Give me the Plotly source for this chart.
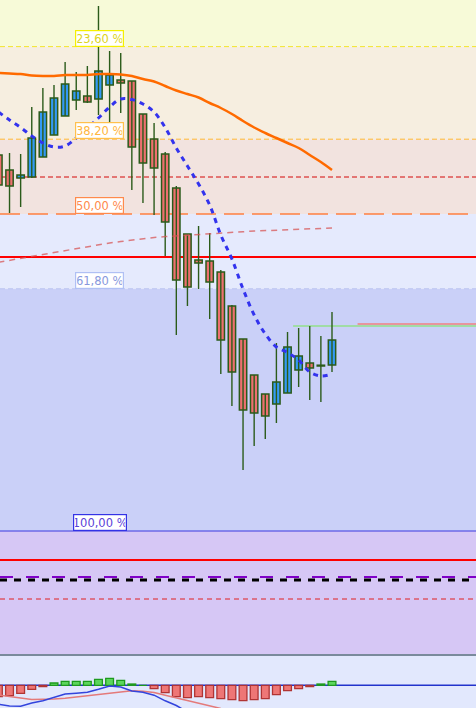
import plotly.graph_objects as go

# ---------------- data (price units) ----------------
candle_index = list(range(31))
opens  = [137.6, 136.1, 135.3, 135.4, 137.4, 139.6, 141.5, 143.1, 143.5, 143.2, 144.6, 145.1, 145.0, 141.7, 139.2, 137.7,
          134.3, 129.7, 127.1, 127.0, 125.9, 122.5, 119.2, 115.6, 113.7, 112.7, 113.8, 116.1, 116.8, 116.5, 116.6]
highs  = [138.1, 137.8, 137.7, 142.4, 144.3, 144.6, 146.9, 145.9, 146.5, 152.5, 148.0, 147.8, 145.0, 141.7, 140.8, 137.9,
          134.5, 129.7, 130.5, 129.8, 126.1, 122.6, 119.2, 115.6, 113.7, 118.8, 119.9, 120.3, 120.5, 119.5, 121.9]
lows   = [133.6, 131.8, 132.4, 135.3, 137.4, 139.6, 141.5, 142.1, 142.8, 141.6, 140.1, 141.8, 134.1, 132.8, 131.6, 127.5,
          119.6, 122.5, 124.2, 121.2, 115.7, 112.5, 106.1, 108.5, 109.2, 110.8, 113.8, 114.4, 113.1, 112.9, 115.9]
closes = [134.6, 134.5, 135.6, 139.3, 141.9, 143.3, 144.7, 144.0, 142.9, 146.0, 145.6, 144.8, 138.4, 136.8, 136.3, 130.9,
          125.1, 124.4, 126.8, 124.9, 119.1, 115.9, 112.1, 111.8, 111.5, 114.9, 118.4, 117.5, 116.3, 116.5, 119.1]

ma_fast = [141.9, 141.1, 140.35, 139.5, 138.8, 138.4, 138.5, 139.3, 140.3, 141.3, 142.4, 143.2, 143.15, 142.7, 141.9,
           140.35, 138.3, 136.5, 134.7, 132.6, 129.6, 127.2, 124.2, 121.6, 119.7, 118.4, 117.85, 117.1, 115.9, 115.5, 115.7]
ma_mid = [145.8, 145.75, 145.7, 145.55, 145.5, 145.5, 145.6, 145.6, 145.6, 145.7, 145.7, 145.65, 145.5, 145.2, 144.95,
          144.5, 144.05, 143.7, 143.35, 142.8, 142.3, 141.7, 141.0, 140.35, 139.8, 139.3, 138.8, 138.3, 137.6, 136.9, 136.1]
ma_slow = [126.87, 127.05, 127.25, 127.45, 127.65, 127.85, 128.05, 128.25, 128.45, 128.67, 128.8, 128.95, 129.1, 129.25,
           129.35, 129.44, 129.52, 129.6, 129.67, 129.74, 129.8, 129.87, 129.93, 129.99, 130.04, 130.09, 130.14, 130.18,
           130.22, 130.26, 130.3]

macd_hist = [-11.3, -10.3, -8.0, -4.0, -1.3, 2.3, 4.0, 4.0, 4.0, 6.0, 7.0, 5.0, 1.3, 0.0, -3.3, -7.3, -11.3, -12.3,
             -11.3, -12.3, -13.3, -14.3, -15.3, -14.3, -13.3, -9.3, -5.3, -3.3, -1.3, 1.3, 4.0]
macd_line = [-19.0, -20.7, -20.9, -17.7, -15.4, -12.0, -8.7, -7.9, -7.0, -4.0, -0.7, -1.7, -5.7, -7.0, -9.9, -15.5,
             -20.2, -26.7]
macd_signal = [-9.7, -11.5, -12.7, -14.3, -14.2, -13.7, -13.0, -11.7, -10.0, -8.7, -7.5, -6.5, -5.5, -5.9, -7.2, -10.0,
               -12.7, -15.4, -17.9, -20.5, -23.2]

swing_high = 163.4
swing_low = 100.0
fib_ratios = [0.236, 0.382, 0.5, 0.618, 1.0]
fib_labels = ["23,60 %", "38,20 %", "50,00 %", "61,80 %", "100,00 %"]

level_red_dashed = 135.4
level_red_solid_1 = 127.4
level_red_solid_2 = 97.1
level_purple_dash = 95.4
level_black_dash = 95.1
level_red_dash_low = 93.2
level_green = 120.5
level_green_start = 26.5
level_pink = 120.7
level_pink_start = 32.3

# ---------------- view ----------------
X_RANGE = [0.144, 42.95]
Y_RANGE = [87.6, 153.1]
Y2_RANGE = [-22.7, 29.3]
H = 708.0
main_dom = [(H - 655) / H, 1.0]
macd_dom = [0.0, (H - 656) / H]

fib_prices = [swing_high - r * (swing_high - swing_low) for r in fib_ratios]

WICK = "#2B5B1A"
fig = go.Figure()

# wicks
wx, wy = [], []
for i, h, l in zip(candle_index, highs, lows):
    wx += [i, i, None]
    wy += [l, h, None]
fig.add_trace(go.Scatter(x=wx, y=wy, mode="lines", line=dict(color=WICK, width=1.4),
                         hoverinfo="skip", xaxis="x", yaxis="y"))

# bodies
up_x, up_b, up_h, dn_x, dn_b, dn_h = [], [], [], [], [], []
for i, o, c in zip(candle_index, opens, closes):
    base = min(o, c)
    hgt = max(abs(c - o), 0.08)
    if c > o:
        up_x.append(i); up_b.append(base); up_h.append(hgt)
    else:
        dn_x.append(i); dn_b.append(base); dn_h.append(hgt)
fig.add_trace(go.Bar(x=up_x, y=up_h, base=up_b, width=0.66, marker=dict(color="#3399F5", line=dict(color=WICK, width=1.5)),
                     xaxis="x", yaxis="y", hoverinfo="skip"))
fig.add_trace(go.Bar(x=dn_x, y=dn_h, base=dn_b, width=0.66, marker=dict(color="#EE7070", line=dict(color=WICK, width=1.5)),
                     xaxis="x", yaxis="y", hoverinfo="skip"))

# moving averages
fig.add_trace(go.Scatter(x=candle_index, y=ma_slow, mode="lines",
                         line=dict(color="rgba(215,85,85,0.75)", width=1.5, dash="6px,5px"),
                         xaxis="x", yaxis="y", hoverinfo="skip"))
fig.add_trace(go.Scatter(x=candle_index, y=ma_mid, mode="lines", line=dict(color="#FF6A00", width=2.5, shape="spline"),
                         xaxis="x", yaxis="y", hoverinfo="skip"))
fig.add_trace(go.Scatter(x=candle_index, y=ma_fast, mode="lines",
                         line=dict(color="#3333EE", width=3, dash="5px,5px", shape="spline"),
                         xaxis="x", yaxis="y", hoverinfo="skip"))

# MACD
hist_colors = ["#5CD65C" if v >= 0 else "#EE7676" for v in macd_hist]
hist_lines = ["#1E9A1E" if v >= 0 else "#B03434" for v in macd_hist]
fig.add_trace(go.Bar(x=candle_index, y=macd_hist, width=0.70,
                     marker=dict(color=hist_colors, line=dict(color=hist_lines, width=1.3)),
                     xaxis="x2", yaxis="y2", hoverinfo="skip"))
fig.add_trace(go.Scatter(x=candle_index[:len(macd_signal)], y=macd_signal, mode="lines",
                         line=dict(color="#E47A7A", width=1.5), xaxis="x2", yaxis="y2", hoverinfo="skip"))
fig.add_trace(go.Scatter(x=candle_index[:len(macd_line)], y=macd_line, mode="lines",
                         line=dict(color="#3344DD", width=1.5), xaxis="x2", yaxis="y2", hoverinfo="skip"))

shapes = []
def band(y0, y1, color):
    shapes.append(dict(type="rect", xref="x domain", yref="y", x0=0, x1=1, y0=y0, y1=y1,
                       fillcolor=color, line=dict(width=0), layer="below"))

band(fib_prices[0], Y_RANGE[1], "#F7FAD8")
band(fib_prices[1], fib_prices[0], "#F6EEE0")
band(fib_prices[2], fib_prices[1], "#F2E3DF")
band(fib_prices[3], fib_prices[2], "#E5EAFD")
band(fib_prices[4], fib_prices[3], "#CAD0F8")
band(Y_RANGE[0], fib_prices[4], "#D6C7F5")

def hline(y, color, width, dash="solid", x0=0.0):
    shapes.append(dict(type="line", xref="x domain", yref="y", x0=x0, x1=1, y0=y, y1=y,
                       line=dict(color=color, width=width, dash=dash), layer="below"))

hline(fib_prices[0], "#F2E62A", 1, "5px,3px")
hline(fib_prices[1], "#FFB833", 1, "5px,3px")
hline(level_red_dashed, "#D40808", 1, "5px,3px")
hline(fib_prices[2], "#FF8040", 1.5, "20px,8px")
hline(level_red_solid_1, "#FF0000", 2.2)
hline(fib_prices[3], "#B8C2F0", 1, "5px,3px")
hline(fib_prices[4], "#3A3AE0", 1)
hline(level_red_solid_2, "#FF0000", 2.2)
hline(level_purple_dash, "#8000C8", 2, "13px,13px")
hline(level_black_dash, "#000000", 3, "7px,7px")
hline(level_red_dash_low, "#E02020", 1, "5px,4px")
shapes.append(dict(type="line", xref="x", yref="y", x0=level_green_start, x1=X_RANGE[1], y0=level_green, y1=level_green,
                   line=dict(color="#77E855", width=1.2), layer="below"))
shapes.append(dict(type="line", xref="x", yref="y", x0=level_pink_start, x1=X_RANGE[1], y0=level_pink, y1=level_pink,
                   line=dict(color="#F08080", width=1.5), layer="below"))

# MACD pane background + zero line + separator
shapes.append(dict(type="rect", xref="paper", yref="paper", x0=0, x1=1, y0=macd_dom[0], y1=macd_dom[1],
                   fillcolor="#E2E8FD", line=dict(width=0), layer="below"))
shapes.append(dict(type="line", xref="x2 domain", yref="y2", x0=0, x1=1, y0=0, y1=0,
                   line=dict(color="#2233CC", width=1.5), layer="below"))
shapes.append(dict(type="line", xref="paper", yref="paper", x0=0, x1=1, y0=main_dom[0], y1=main_dom[0],
                   line=dict(color="#7A8A9C", width=2)))

label_style = [("#F5F000", "#DDD520"), ("#FFC04D", "#FFB640"), ("#FF8A4C", "#FF8A4C"),
               ("#B0C0F4", "#8898DD"), ("#3333E6", "#5B3FD9")]
annotations = []
for k, (p, txt) in enumerate(zip(fib_prices, fib_labels)):
    bc, tc = label_style[k]
    annotations.append(dict(x=99.5 / 476, xref="paper", y=p, yref="y", yanchor="bottom", xanchor="center",
                            text=txt, showarrow=False, bgcolor="#FFFFFF", bordercolor=bc, borderwidth=1.2,
                            borderpad=1, width=45 if k < 4 else 50, height=13,
                            font=dict(family="DejaVu Sans, Verdana, sans-serif", size=11.5, color=tc)))

fig.update_layout(
    width=476, height=708, margin=dict(l=0, r=0, t=0, b=0),
    paper_bgcolor="#FFFFFF", plot_bgcolor="rgba(0,0,0,0)",
    showlegend=False, barmode="overlay", hovermode=False,
    xaxis=dict(range=X_RANGE, visible=False, domain=[0, 1], anchor="y", fixedrange=True),
    yaxis=dict(range=Y_RANGE, visible=False, domain=main_dom, anchor="x", fixedrange=True),
    xaxis2=dict(range=X_RANGE, visible=False, domain=[0, 1], anchor="y2", matches="x"),
    yaxis2=dict(range=Y2_RANGE, visible=False, domain=macd_dom, anchor="x2", fixedrange=True),
    shapes=shapes, annotations=annotations,
)

fig.write_html("out.html", config={"displayModeBar": False, "staticPlot": True},
               post_script="document.body.style.margin='0px';document.body.style.overflow='hidden';")
